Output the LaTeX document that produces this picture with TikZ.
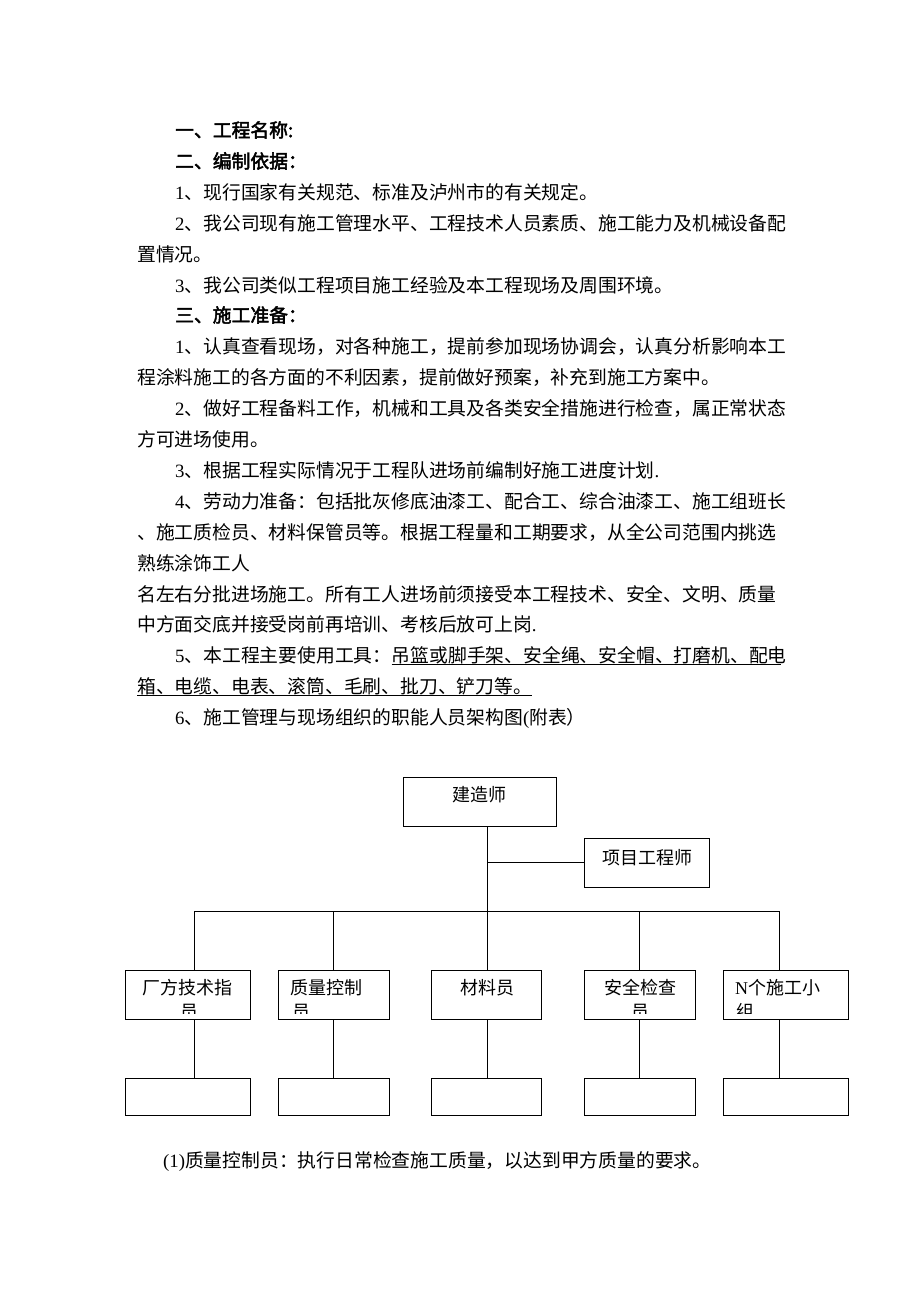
\documentclass[tikz,border=0pt]{standalone}
\usepackage{fontspec}
\setmainfont{Noto Sans CJK SC}[AutoFakeBold=2.5]
\newfontfamily\lat{Liberation Serif}
\XeTeXlinebreaklocale "zh"
\XeTeXlinebreakskip=0pt plus 3pt minus 1pt
\usetikzlibrary{positioning}
\newcommand{\fullline}[2]{\makebox[#1][s]{#2}}
\tikzset{
    body/.style={anchor=west, inner sep=0pt, font=\fontsize{18.8}{18.8}\selectfont, text height=16.5pt, text depth=2.3pt},
    head/.style={body, font=\fontsize{18.8}{18.8}\selectfont\bfseries},
    post/.style={draw, rectangle, line width=1pt, inner sep=0pt, minimum height=49pt},
    slot/.style={post, minimum height=37pt},
    boxtext/.style={inner sep=0pt, font=\fontsize{18}{18}\selectfont, text height=15.8pt, text depth=2.2pt},
    wire/.style={line width=1pt}
}

\begin{document}
\begin{tikzpicture}[x=1pt, y=-1pt]
    \useasboundingbox (0,0) rectangle (920,1302);
    \fill[white] (0,0) rectangle (920,1302);

    % text above the chart
    \node[head] (hdA) at (175,130) {一、工程名称:};
    \node[head] (hdB) at (175,161) {二、编制依据：};
    \node[body] (bas1) at (175,192) {{\lat 1}、现行国家有关规范、标准及泸州市的有关规定。};
    \node[body] (bas2a) at (175,223) {\fullline{603pt}{{\lat 2}、我公司现有施工管理水平、工程技术人员素质、施工能力及机械设备配}};
    \node[body] (bas2b) at (137,254) {置情况。};
    \node[body] (bas3) at (175,285) {{\lat 3}、我公司类似工程项目施工经验及本工程现场及周围环境。};
    \node[head] (hdC) at (175,315) {三、施工准备：};
    \node[body] (prep1a) at (175,346) {\fullline{605pt}{{\lat 1}、认真查看现场，对各种施工，提前参加现场协调会，认真分析影响本工}};
    \node[body] (prep1b) at (137,377) {程涂料施工的各方面的不利因素，提前做好预案，补充到施工方案中。};
    \node[body] (prep2a) at (175,408) {\fullline{605pt}{{\lat 2}、做好工程备料工作，机械和工具及各类安全措施进行检查，属正常状态}};
    \node[body] (prep2b) at (137,439) {方可进场使用。};
    \node[body] (prep3) at (175,470) {{\lat 3}、根据工程实际情况于工程队进场前编制好施工进度计划{\lat .}};
    \node[body] (prep4a) at (175,501) {\fullline{602pt}{{\lat 4}、劳动力准备：包括批灰修底油漆工、配合工、综合油漆工、施工组班长}};
    \node[body] (prep4b) at (137,532) {\fullline{635pt}{、施工质检员、材料保管员等。根据工程量和工期要求，从全公司范围内挑选}};
    \node[body] (prep4c) at (137,563) {熟练涂饰工人};
    \node[body] (prep4d) at (137,594) {\fullline{635pt}{名左右分批进场施工。所有工人进场前须接受本工程技术、安全、文明、质量}};
    \node[body] (prep4e) at (137,624) {中方面交底并接受岗前再培训、考核后放可上岗{\lat .}};
    \node[body] (prep5a) at (175,655) {{\lat 5}、本工程主要使用工具：};
    \node[body, right=0pt of prep5a] (tools) {\fullline{389pt}{吊篮或脚手架、安全绳、安全帽、打磨机、配电}};
    \node[body] (prep5b) at (137,686) {箱、电缆、电表、滚筒、毛刷、批刀、铲刀等。};
    \node[body] (prep6) at (175,717) {{\lat 6}、施工管理与现场组织的职能人员架构图{\lat (}附表）};

    \draw[line width=0.9pt] (tools.south west) -- (tools.south east);
    \draw[line width=0.9pt] (prep5b.south west) -- (prep5b.south east);

    % chart
    \node[post, minimum width=153pt] (chief) at (479.5,801.5) {};
    \node[post, minimum width=125pt] (engineer) at (646.5,862.5) {};
    \node[boxtext] (chiefText) at (479.5,795) {建造师};
    \node[boxtext] (engineerText) at (647,858) {项目工程师};

    \node[post, minimum width=125pt] (tech) at (187.5,994.5) {};
    \node[post, minimum width=111pt] (quality) at (333.5,994.5) {};
    \node[post, minimum width=110pt] (material) at (486,994.5) {};
    \node[post, minimum width=111pt] (safety) at (639.5,994.5) {};
    \node[post, minimum width=125pt] (team) at (785.5,994.5) {};

    \node[slot, minimum width=125pt] (techSub) at (187.5,1096.5) {};
    \node[slot, minimum width=111pt] (qualitySub) at (333.5,1096.5) {};
    \node[slot, minimum width=110pt] (materialSub) at (486,1096.5) {};
    \node[slot, minimum width=111pt] (safetySub) at (639.5,1096.5) {};
    \node[slot, minimum width=125pt] (teamSub) at (785.5,1096.5) {};

    \begin{scope}
        \clip (tech.north west) rectangle ([yshift=6pt]tech.south east);
        \node[boxtext] (techText) at (187.5,988) {厂方技术指};
        \node[boxtext] (techMore) at (189,1012) {员};
    \end{scope}
    \begin{scope}
        \clip (quality.north west) rectangle ([yshift=6pt]quality.south east);
        \node[boxtext, anchor=west] (qualityText) at (290,988) {质量控制};
        \node[boxtext, anchor=west] (qualityMore) at (292,1012) {员};
    \end{scope}
    \node[boxtext] (materialText) at (487,988) {材料员};
    \begin{scope}
        \clip (safety.north west) rectangle ([yshift=6pt]safety.south east);
        \node[boxtext] (safetyText) at (640,988) {安全检查};
        \node[boxtext] (safetyMore) at (640,1012) {员};
    \end{scope}
    \begin{scope}
        \clip (team.north west) rectangle ([yshift=6pt]team.south east);
        \node[boxtext, anchor=west] (teamText) at (735,988) {{\lat N}个施工小};
        \node[boxtext, anchor=west] (teamMore) at (736,1012) {组};
    \end{scope}

    \coordinate (trunk) at (487,911);
    \coordinate (drop1) at (194,911);
    \coordinate (drop2) at (333,911);
    \coordinate (drop4) at (639,911);
    \coordinate (drop5) at (779,911);

    \draw[wire] (chief.south -| trunk) -- (trunk);
    \draw[wire] (engineer.west -| trunk) -- (engineer.west);
    \draw[wire] (drop1) -- (drop5);

    \draw[wire] (drop1) -- (drop1 |- tech.north);
    \draw[wire] (drop2) -- (drop2 |- quality.north);
    \draw[wire] (trunk) -- (trunk |- material.north);
    \draw[wire] (drop4) -- (drop4 |- safety.north);
    \draw[wire] (drop5) -- (drop5 |- team.north);

    \draw[wire] (drop1 |- tech.south) -- (drop1 |- techSub.north);
    \draw[wire] (drop2 |- quality.south) -- (drop2 |- qualitySub.north);
    \draw[wire] (trunk |- material.south) -- (trunk |- materialSub.north);
    \draw[wire] (drop4 |- safety.south) -- (drop4 |- safetySub.north);
    \draw[wire] (drop5 |- team.south) -- (drop5 |- teamSub.north);

    \node[body] (note) at (163,1160) {{\lat (1)}质量控制员：执行日常检查施工质量，以达到甲方质量的要求。};
\end{tikzpicture}
\end{document}
